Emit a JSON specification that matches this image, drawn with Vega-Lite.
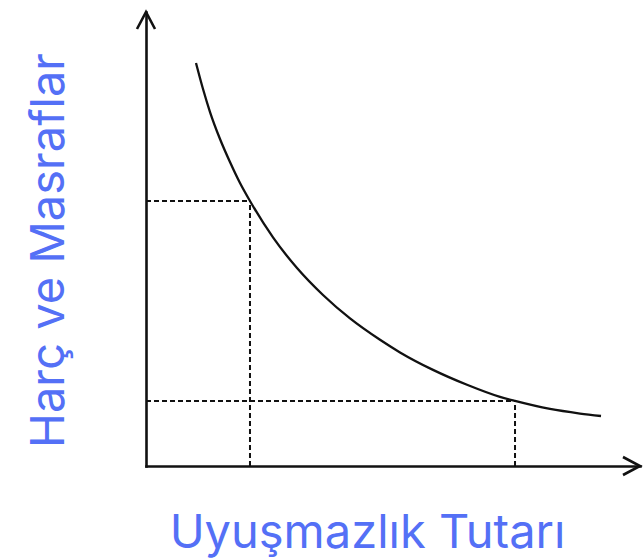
{
  "$schema": "https://vega.github.io/schema/vega-lite/v6.json",
  "autosize": {"type": "none"},
  "width": 494,
  "height": 454,
  "padding": {"left": 146, "top": 12, "right": 3, "bottom": 92},
  "background": "white",
  "view": {"stroke": null},
  "datasets": {
    "curve": [
      {"x": 1.012, "y": 8.877},
      {"x": 1.154, "y": 8.304},
      {"x": 1.296, "y": 7.797},
      {"x": 1.498, "y": 7.203},
      {"x": 1.7, "y": 6.696},
      {"x": 1.903, "y": 6.233},
      {"x": 2.105, "y": 5.837},
      {"x": 2.571, "y": 5.035},
      {"x": 3.057, "y": 4.361},
      {"x": 3.583, "y": 3.767},
      {"x": 4.13, "y": 3.251},
      {"x": 4.737, "y": 2.78},
      {"x": 5.142, "y": 2.502},
      {"x": 5.81, "y": 2.117},
      {"x": 6.498, "y": 1.789},
      {"x": 7.166, "y": 1.522},
      {"x": 7.47, "y": 1.432},
      {"x": 8.178, "y": 1.256},
      {"x": 8.785, "y": 1.156},
      {"x": 9.211, "y": 1.101}
    ],
    "marks": [
      {"x": 2.105, "y": 5.837, "base": 0},
      {"x": 7.47, "y": 1.432, "base": 0}
    ],
    "arrowUp": [{"x": 0, "y": 10}],
    "arrowRight": [{"x": 10, "y": 0}]
  },
  "layer": [
    {
      "data": {"name": "curve"},
      "mark": {"type": "line", "color": "#111111", "strokeWidth": 2.3, "interpolate": "monotone"},
      "encoding": {
        "x": {"field": "x", "type": "quantitative", "scale": {"domain": [0, 10], "nice": false, "zero": false},
          "axis": {"title": "Uyuşmazlık Tutarı", "labels": false, "ticks": false, "grid": false,
            "domainColor": "#111111", "domainWidth": 2.6, "domainCap": "square",
            "titleFont": "Inter", "titleFontSize": 47, "titleFontWeight": "normal", "titleColor": "#5470f6",
            "titleX": 221, "titleY": 81, "titleBaseline": "alphabetic", "titleAlign": "center"}},
        "y": {"field": "y", "type": "quantitative", "scale": {"domain": [0, 10], "nice": false, "zero": false},
          "axis": {"title": "Harç ve Masraflar", "labels": false, "ticks": false, "grid": false,
            "domainColor": "#111111", "domainWidth": 2.6, "domainCap": "square",
            "titleFont": "Inter", "titleFontSize": 47, "titleFontWeight": "normal", "titleColor": "#5470f6",
            "titleX": -83, "titleY": 238, "titleBaseline": "alphabetic", "titleAlign": "center", "titleAngle": -90}}
      }
    },
    {
      "data": {"name": "marks"},
      "mark": {"type": "rule", "color": "#111111", "strokeWidth": 2, "strokeDash": [5, 3]},
      "encoding": {
        "x": {"field": "base", "type": "quantitative"},
        "x2": {"field": "x"},
        "y": {"field": "y", "type": "quantitative"}
      }
    },
    {
      "data": {"name": "marks"},
      "mark": {"type": "rule", "color": "#111111", "strokeWidth": 2, "strokeDash": [5, 3]},
      "encoding": {
        "x": {"field": "x", "type": "quantitative"},
        "y": {"field": "base", "type": "quantitative"},
        "y2": {"field": "y"}
      }
    },
    {
      "data": {"name": "arrowUp"},
      "mark": {"type": "point", "shape": "M-0.53,1L0,0L0.53,1", "filled": false, "stroke": "#111111", "strokeWidth": 2.6, "size": 1156, "opacity": 1},
      "encoding": {
        "x": {"field": "x", "type": "quantitative"},
        "y": {"field": "y", "type": "quantitative"}
      }
    },
    {
      "data": {"name": "arrowRight"},
      "mark": {"type": "point", "shape": "M-1,-0.53L0,0L-1,0.53", "filled": false, "stroke": "#111111", "strokeWidth": 2.6, "size": 1156, "opacity": 1},
      "encoding": {
        "x": {"field": "x", "type": "quantitative"},
        "y": {"field": "y", "type": "quantitative"}
      }
    }
  ]
}
